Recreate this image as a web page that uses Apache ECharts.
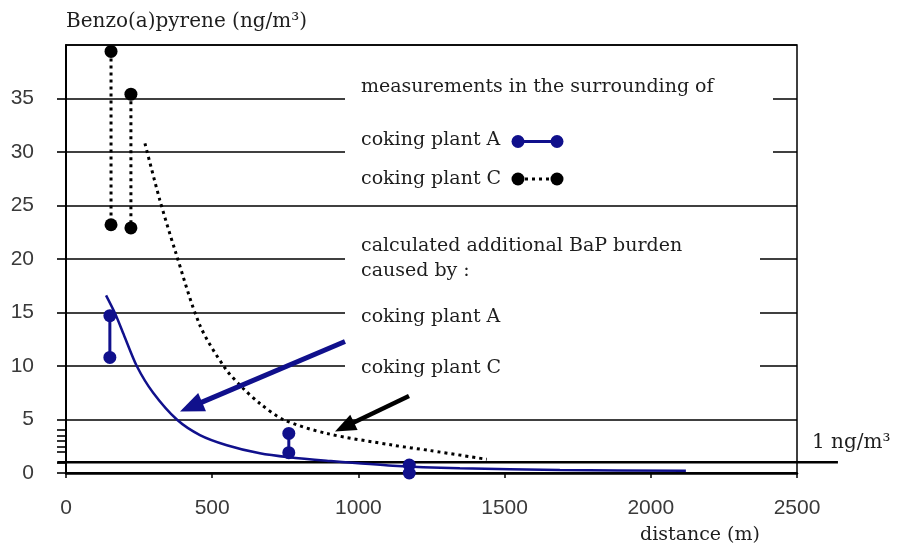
<!DOCTYPE html>
<html>
<head>
<meta charset="utf-8">
<script src="https://cdn.jsdelivr.net/npm/echarts@6/dist/echarts.min.js"></script>
<style>
  html, body { margin: 0; padding: 0; background: #fff; }
  #chart { width: 897px; height: 548px; }
</style>
</head>
<body>
<div id="chart"></div>
<script>
  // calculated additional BaP burden: [distance (m), ng/m3]
  const modelA = [[137, 16.6], [168, 14.9], [198, 12.9], [242, 10.0], [298, 7.5], [379, 5.0], [458, 3.55], [550, 2.6], [663, 1.84], [762, 1.47], [891, 1.15], [1118, 0.68], [1347, 0.44], [1689, 0.28], [2120, 0.2]];
  const modelC = [[270, 30.8], [321, 25.5], [373, 20.8], [458, 13.8], [544, 9.8], [606, 7.9], [663, 6.5], [743, 5.0], [891, 3.7], [1118, 2.6], [1245, 2.1], [1439, 1.28]];
  // measurements: [distance (m), upper, lower]
  const measuredA = [[150, 14.7, 10.8], [762, 3.7, 1.9], [1174, 0.75, 0]];
  const measuredC = [[154, 39.4, 23.2], [222, 35.4, 22.9]];
  // 1 ng/m3 reference line, runs past the right edge of the plot
  const limitLine = [[-30, 1], [2640, 1]];
  const yTickValues = [0, 1, 2, 2.5, 3, 3.5, 4, 5, 10, 15, 20, 25, 30, 35];

  const BLUE = '#10108c';
  const SERIF = 'DejaVu Serif';
  const TXT = '#1e1e1e';

  function pairs(rows) {
    const out = [];
    rows.forEach(function (r) {
      out.push([r[0], r[1]]);
      out.push([r[0], r[2]]);
      out.push([r[0], '-']);
    });
    return out;
  }

  function arrow(x1, y1, x2, y2, color, width, headLen, headHalf) {
    const dx = x2 - x1, dy = y2 - y1;
    const len = Math.sqrt(dx * dx + dy * dy);
    const ux = dx / len, uy = dy / len;
    const bx = x2 - ux * headLen, by = y2 - uy * headLen;
    const nx = -uy, ny = ux;
    return [
      {
        type: 'line', z: 20,
        shape: { x1: x1, y1: y1, x2: bx + ux * 2, y2: by + uy * 2 },
        style: { stroke: color, lineWidth: width }
      },
      {
        type: 'polygon', z: 20,
        shape: { points: [[x2, y2], [bx + nx * headHalf, by + ny * headHalf], [bx - nx * headHalf, by - ny * headHalf]] },
        style: { fill: color }
      }
    ];
  }

  function label(text, x, y, size) {
    return {
      type: 'text', z: 10, x: x, y: y,
      style: { text: text, fill: TXT, font: (size || 19) + 'px "' + SERIF + '"', verticalAlign: 'middle' }
    };
  }

  const chart = echarts.init(document.getElementById('chart'));

  const graphic = [
    // white panels behind the key
    { type: 'rect', z: 1, shape: { x: 345, y: 65, width: 428, height: 128 }, style: { fill: '#fff' } },
    { type: 'rect', z: 1, shape: { x: 345, y: 225, width: 415, height: 165 }, style: { fill: '#fff' } },
    label('measurements in the surrounding of', 361, 87),
    label('coking plant A', 361, 140),
    label('coking plant C', 361, 179),
    label('calculated additional BaP burden', 361, 246),
    label('caused by :', 361, 271),
    label('coking plant A', 361, 317),
    label('coking plant C', 361, 368),
    // key symbols
    { type: 'line', z: 10, shape: { x1: 518, y1: 141.5, x2: 557, y2: 141.5 }, style: { stroke: BLUE, lineWidth: 3 } },
    { type: 'circle', z: 11, shape: { cx: 518, cy: 141.5, r: 6.5 }, style: { fill: BLUE } },
    { type: 'circle', z: 11, shape: { cx: 557, cy: 141.5, r: 6.5 }, style: { fill: BLUE } },
    { type: 'line', z: 10, shape: { x1: 518, y1: 179, x2: 557, y2: 179 }, style: { stroke: '#000', lineWidth: 3, lineDash: [3, 4] } },
    { type: 'circle', z: 11, shape: { cx: 518, cy: 179, r: 6.5 }, style: { fill: '#000' } },
    { type: 'circle', z: 11, shape: { cx: 557, cy: 179, r: 6.5 }, style: { fill: '#000' } },
    // axis / threshold labels
    label('distance (m)', 640, 535),
    label('1 ng/m\u00b3', 812, 443, 20)
  ].concat(
    arrow(345, 341.5, 180, 411.5, BLUE, 5, 24, 10),
    arrow(409, 396, 335, 431.5, '#000', 4.5, 21, 8.5)
  );

  const option = {
    animation: false,
    backgroundColor: '#fff',
    grid: {
      left: 66, right: 100, top: 45, bottom: 75,
      show: true, borderColor: '#000', borderWidth: 1.5, backgroundColor: 'transparent'
    },
    xAxis: {
      type: 'value', min: 0, max: 2500, interval: 500,
      axisLine: { lineStyle: { color: '#000', width: 2.5 } },
      axisTick: { show: true, length: 5, lineStyle: { color: '#000', width: 1.5 } },
      axisLabel: {
        color: '#3a3a3a', fontFamily: 'Liberation Sans', fontSize: 21, margin: 25,
        formatter: function (v) { return String(v); }
      },
      splitLine: { show: false }
    },
    yAxis: [
      {
        type: 'value', min: 0, max: 40, interval: 5,
        name: 'Benzo(a)pyrene (ng/m\u00b3)', nameLocation: 'end', nameGap: 13,
        nameTextStyle: { align: 'left', color: TXT, fontFamily: SERIF, fontSize: 20 },
        axisLine: { show: true, lineStyle: { color: '#000', width: 2 } },
        axisTick: { show: false },
        axisLabel: {
          color: '#3a3a3a', fontFamily: 'Liberation Sans', fontSize: 21, margin: 32,
          formatter: function (v) { return v === 40 ? '' : String(v); }
        },
        splitLine: { show: true, lineStyle: { color: '#000', width: 1.6 } }
      },
      {
        type: 'value', min: 0, max: 40, position: 'left',
        axisLine: { show: false },
        axisLabel: { show: false },
        splitLine: { show: false },
        axisTick: { show: true, inside: false, length: 9, customValues: yTickValues, lineStyle: { color: '#000', width: 1.6 } }
      }
    ],
    graphic: graphic,
    series: [
      {
        name: 'model A', type: 'line', data: modelA, smooth: 0.25, showSymbol: false, clip: false, z: 5,
        lineStyle: { color: BLUE, width: 2.5 }
      },
      {
        name: 'model C', type: 'line', data: modelC, smooth: 0.3, showSymbol: false, clip: false, z: 5,
        lineStyle: { color: '#000', width: 3, type: [3, 4], cap: 'butt' }
      },
      {
        name: 'measured A', type: 'line', data: pairs(measuredA), connectNulls: false, clip: false, z: 6,
        symbol: 'circle', symbolSize: 13, showSymbol: true,
        itemStyle: { color: BLUE }, lineStyle: { color: BLUE, width: 3 }
      },
      {
        name: 'measured C', type: 'line', data: pairs(measuredC), connectNulls: false, clip: false, z: 6,
        symbol: 'circle', symbolSize: 13, showSymbol: true,
        itemStyle: { color: '#000' }, lineStyle: { color: '#000', width: 3, type: [3, 4] }
      }
    ]
  };

  chart.setOption(option);

  // the 1 ng/m3 line leaves the grid, so place it from the axis scales as a graphic
  const p0 = chart.convertToPixel({ gridIndex: 0 }, limitLine[0]);
  const p1 = chart.convertToPixel({ gridIndex: 0 }, limitLine[1]);
  chart.setOption({
    graphic: graphic.concat([{
      type: 'line', z: 3,
      shape: { x1: p0[0], y1: p0[1], x2: p1[0], y2: p1[1] },
      style: { stroke: '#000', lineWidth: 2.5 }
    }])
  });
</script>
</body>
</html>
